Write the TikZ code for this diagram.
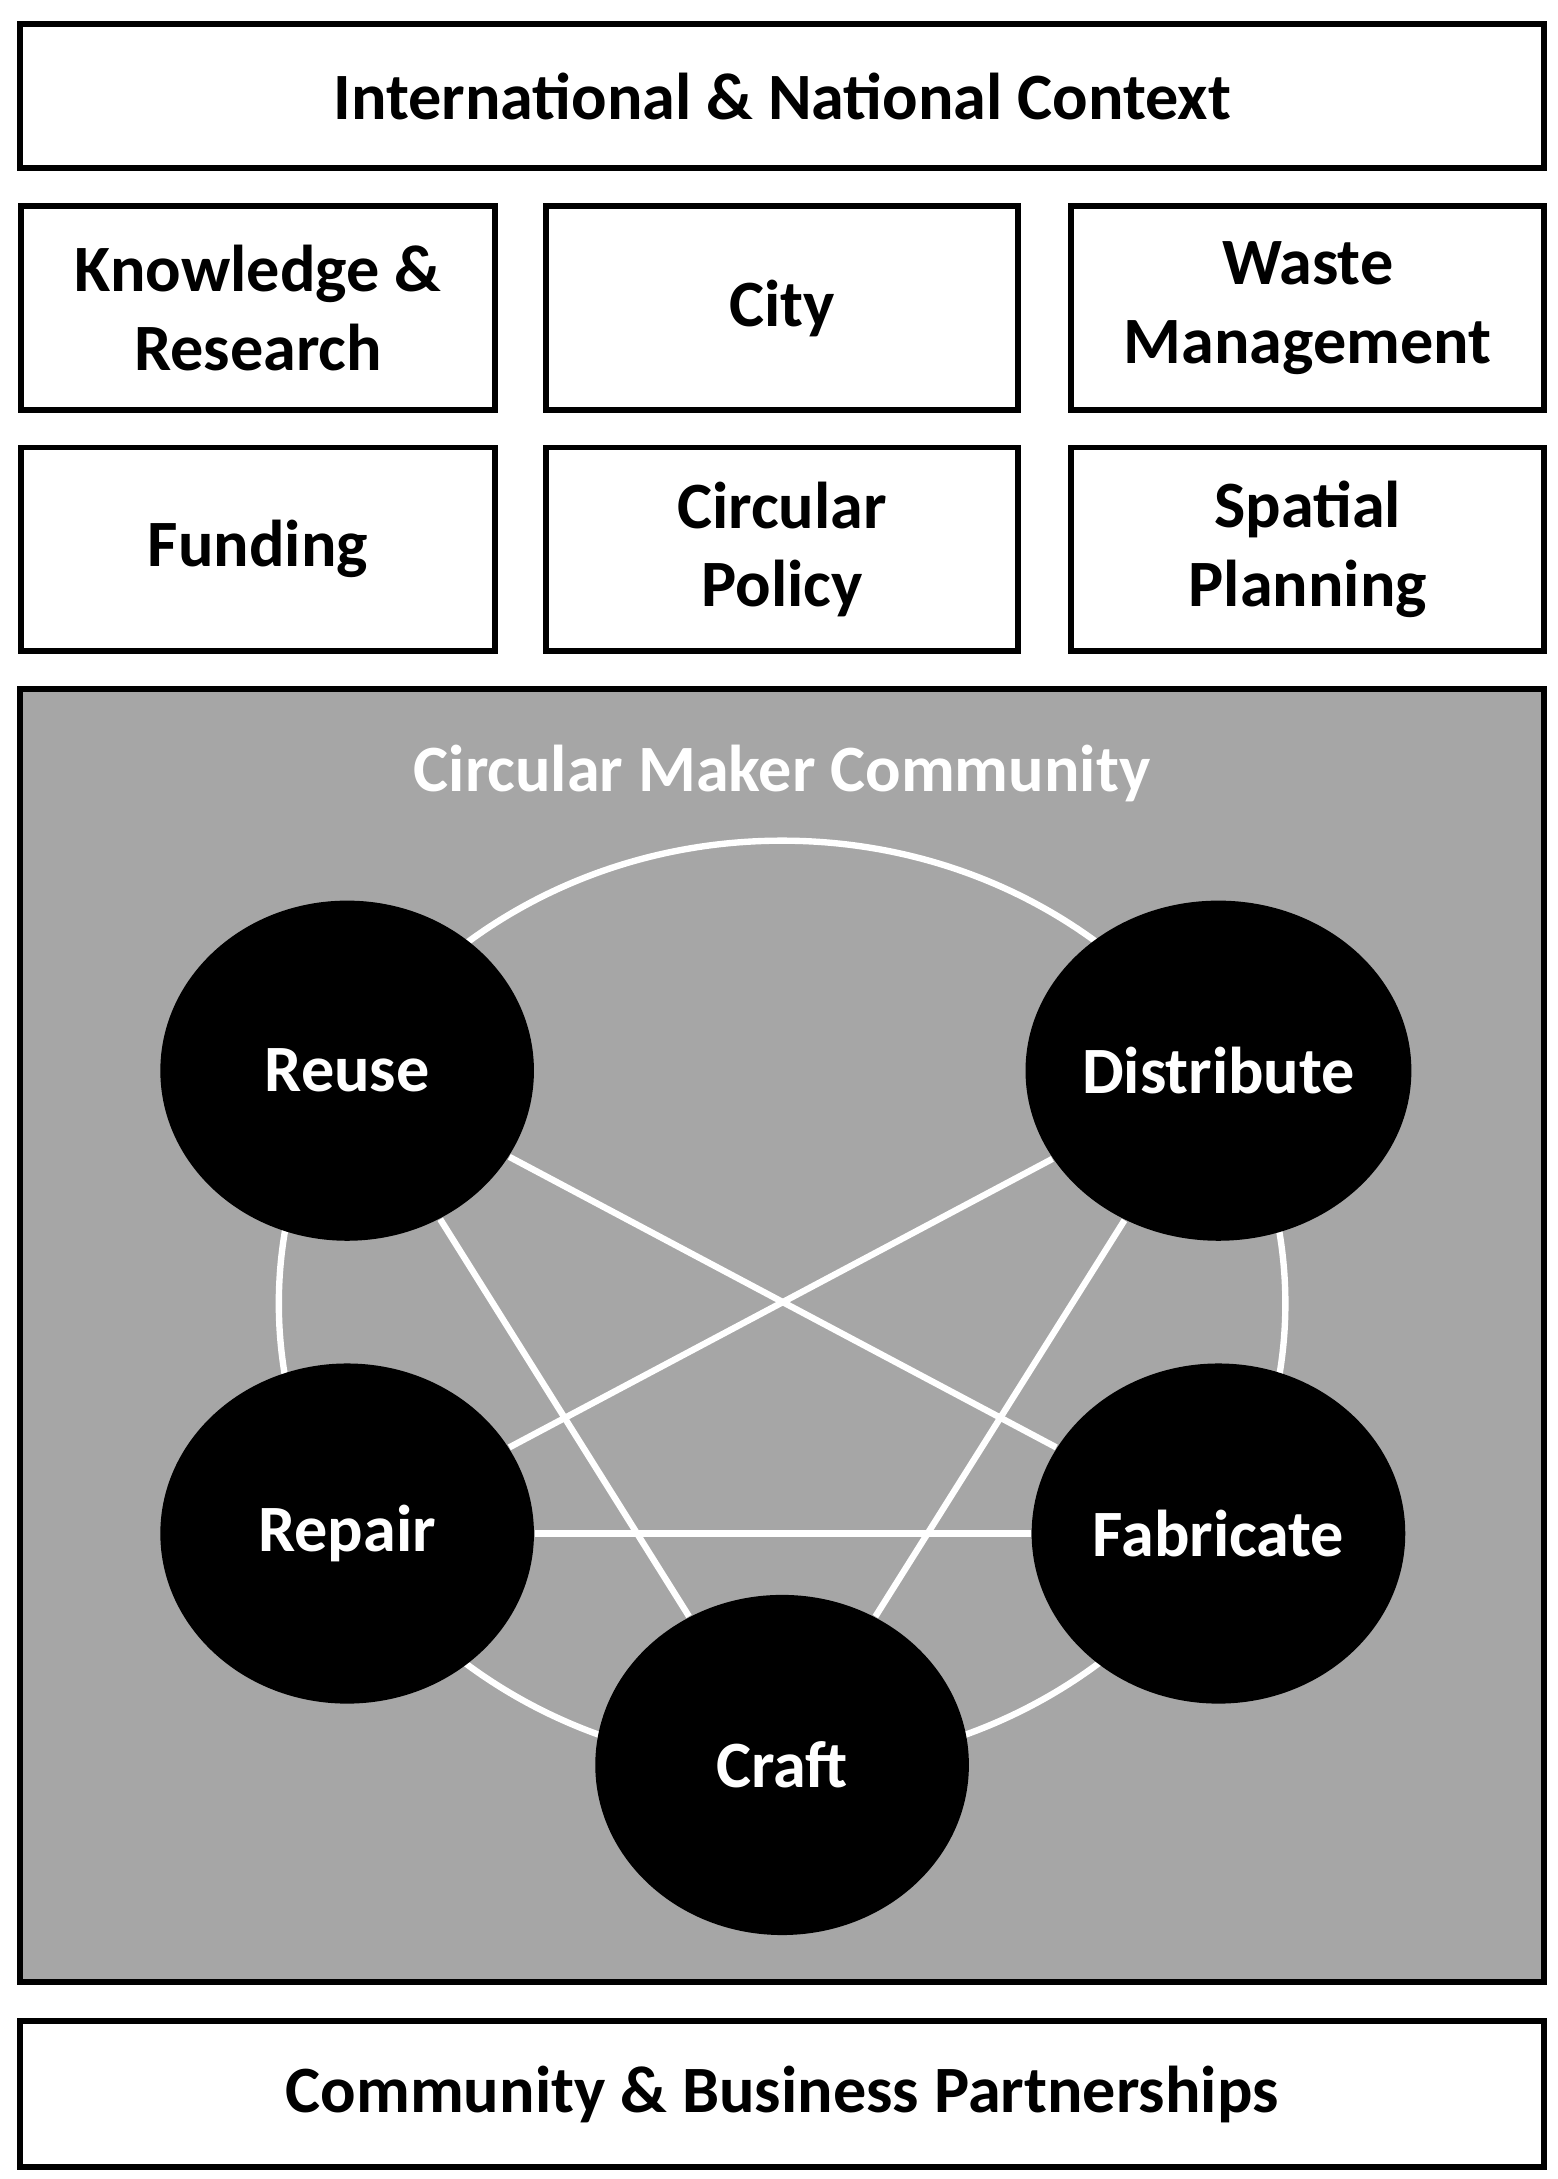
\documentclass[tikz,border=0pt]{standalone}
\usepackage{fontspec}
\setmainfont{Carlito}
\usetikzlibrary{shapes.geometric}

\begin{document}
\begin{tikzpicture}[x=0.01cm,y=-0.01cm,
    txt/.style={font=\fontsize{13.5}{16}\selectfont\bfseries, align=center},
    box/.style={txt, draw, line width=1.2pt, fill=white, minimum width=339\pgflinewidth, inner sep=0},
    stage/.style={txt, ellipse, fill=black, text=white, minimum width=268*0.01cm, minimum height=244*0.01cm, inner sep=0},
    link/.style={white, line width=1.3pt}
  ]
  \useasboundingbox (0,0) rectangle (1117,1563);
  % frame boxes
  \node[box, minimum width=1093*0.01cm, minimum height=103*0.01cm] (context) at (561,69) {International \& National Context};
  \node[box, minimum width=340*0.01cm, minimum height=146*0.01cm] (knowledge) at (185,221) {Knowledge \&\\Research};
  \node[box, minimum width=339*0.01cm, minimum height=146*0.01cm] (city) at (561,221) {City};
  \node[box, minimum width=339*0.01cm, minimum height=146*0.01cm] (waste) at (938,221) {Waste\\Management};
  \node[box, minimum width=340*0.01cm, minimum height=146*0.01cm] (funding) at (185,394) {Funding};
  \node[box, minimum width=339*0.01cm, minimum height=146*0.01cm] (policy) at (561,394) {Circular\\Policy};
  \node[box, minimum width=339*0.01cm, minimum height=146*0.01cm] (spatial) at (938,394) {Spatial\\Planning};
  \node[box, fill=black!35, minimum width=1093*0.01cm, minimum height=927*0.01cm] (community) at (561,958) {};
  \node[txt, text=white] (title) at (561,555) {Circular Maker Community};
  \node[box, minimum width=1093*0.01cm, minimum height=105*0.01cm] (partners) at (561,1502) {Community \& Business Partnerships};
  % maker ring
  \draw[link] (561,935) ellipse (361 and 332);
  \node[stage] (reuse) at (249,768) {Reuse};
  \node[stage] (distribute) at (874,768) {Distribute};
  \node[stage] (repair) at (249,1100) {Repair};
  \node[stage] (fabricate) at (874,1100) {Fabricate};
  \node[stage] (craft) at (561,1266) {Craft};
  \draw[link] (reuse) -- (fabricate);
  \draw[link] (reuse) -- (craft);
  \draw[link] (distribute) -- (repair);
  \draw[link] (distribute) -- (craft);
  \draw[link] (repair) -- (fabricate);
\end{tikzpicture}
\end{document}
